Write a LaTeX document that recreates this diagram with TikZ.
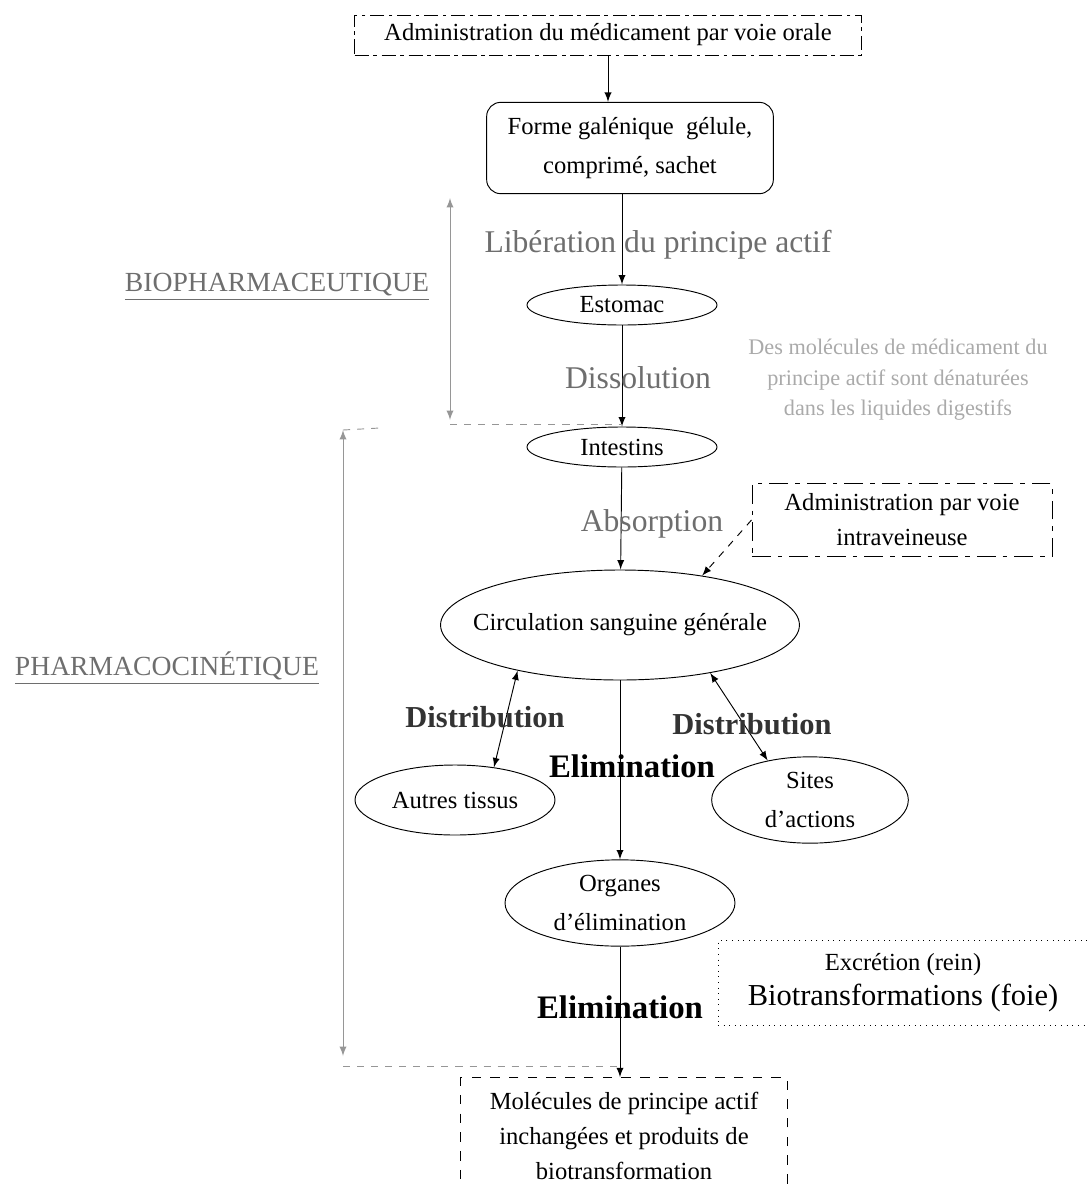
\documentclass[tikz,border=0pt]{standalone}
\usepackage{fontspec}
\setmainfont{Liberation Serif}
\usepackage{tikz}
\usetikzlibrary{shapes,arrows}
\definecolor{labelgray}{RGB}{110,110,110}
\definecolor{notegray}{RGB}{170,170,170}
\definecolor{linegray}{RGB}{150,150,150}

\begin{document}
\begin{tikzpicture}[
    x=0.015cm, y=-0.015cm,
    >=latex,
    dashbox/.style={rectangle, draw, dash pattern=on 6pt off 2pt on 1.5pt off 2pt, align=center, font=\fontsize{10.5}{15}\selectfont},
    dotbox/.style={rectangle, draw, dotted, align=center, font=\fontsize{10.5}{15}\selectfont},
    galbox/.style={rectangle, draw, rounded corners=6pt, align=center, font=\fontsize{10.5}{17}\selectfont},
    oval/.style={ellipse, draw, inner sep=1pt, align=center, font=\fontsize{10.5}{17}\selectfont},
    steplabel/.style={text=labelgray, font=\fontsize{13.5}{15}\selectfont},
    biglabel/.style={text=black!80, font=\fontsize{13}{15}\selectfont\bfseries},
    phase/.style={text=labelgray, font=\fontsize{11.8}{13}\selectfont},
]
    \useasboundingbox (0,0) rectangle (1087,1185);

    % === MAIN CHAIN ===
    \node[dashbox, minimum width=7.6cm, minimum height=0.6cm] (oral) at (608, 35) {Administration du médicament par voie orale};
    \node[galbox, minimum width=4.3cm, minimum height=1.37cm] (forme) at (630, 148) {Forme galénique \ gélule,\\comprimé, sachet};
    \node[oval, minimum width=2.85cm, minimum height=0.6cm] (estomac) at (622, 305) {Estomac};
    \node[oval, minimum width=2.85cm, minimum height=0.6cm] (intestins) at (622, 447) {Intestins};
    \node[oval, inner xsep=-0.3cm, minimum width=5.25cm, minimum height=1.65cm] (circ) at (620, 625) {Circulation sanguine générale};
    \node[oval, minimum width=3cm, minimum height=1.05cm] (autres) at (455, 800) {Autres tissus};
    \node[oval, minimum width=2.95cm, minimum height=1.2cm] (sites) at (810, 800) {Sites\\d'actions};
    \node[oval, minimum width=3.45cm, minimum height=1.2cm] (organes) at (620, 903) {Organes\\d'élimination};
    \node[dashbox, minimum width=4.9cm, minimum height=1.75cm, dash pattern=on 4pt off 4pt] (mol) at (624, 1136) {Molécules de principe actif\\inchangées et produits de\\biotransformation};

    % side boxes
    \node[dashbox, minimum width=4.5cm, minimum height=1.1cm, dash pattern=on 8pt off 3pt on 2pt off 3pt] (iv) at (902, 520) {Administration par voie\\intraveineuse};
    \node[dotbox, minimum width=5.55cm, minimum height=1.27cm] (excr) at (903, 983) {Excrétion (rein)\\\fontsize{13}{16}\selectfont Biotransformations (foie)};
    \node[text=notegray, align=center, font=\fontsize{9.5}{13}\selectfont] (note) at (898, 380) {Des molécules de médicament du\\principe actif sont dénaturées\\dans les liquides digestifs};

    % arrows and labels
    \draw[->] (oral) -- (oral |- forme.north);
    \draw[->] (forme.south -| estomac) -- (estomac);
    \node[steplabel] (lib) at (658, 245) {Libération du principe actif};
    \draw[->] (estomac) -- (intestins);
    \node[steplabel] (diss) at (638, 378) {Dissolution};
    \draw[->] (intestins) -- (circ);
    \node[steplabel] (abs) at (652, 524) {Absorption};
    \draw[->, dashed] (iv.west) -- (circ.31);

    \draw[<->] (circ.204) -- (autres.40);
    \node[biglabel] (dist1) at (485, 717) {Distribution};
    \draw[<->] (circ.-28) -- (sites.137);
    \node[biglabel] (dist2) at (752, 724) {Distribution};
    \draw[->] (circ) -- (organes);
    \node[biglabel, text=black, font=\fontsize{14}{16}\selectfont\bfseries] (elim1) at (632, 766) {Elimination};
    \draw[->] (organes.south) -- (organes.south |- mol.north);
    \node[biglabel, text=black, font=\fontsize{14}{16}\selectfont\bfseries] (elim2) at (620, 1007) {Elimination};

    % === PHASES (left) ===
    \node[phase] (bio) at (277, 287) {\underline{BIOPHARMACEUTIQUE}};
    \coordinate (bioT) at (450, 198);
    \coordinate (bioB) at (450, 420);
    \coordinate (bioC) at (450, 424);
    \draw[<->, linegray] (bioT) -- (bioB);
    \draw[dashed, linegray] (bioC) -- (bioC -| intestins.north);

    \node[phase] (pk) at (167, 668) {\underline{PHARMACOCINÉTIQUE}};
    \coordinate (pkT) at (343, 430);
    \coordinate (pkB) at (343, 1056);
    \coordinate (pkC) at (343, 1066);
    \coordinate (pkTend) at (380, 428);
    \draw[<->, linegray] (pkT) -- (pkB);
    \draw[dashed, linegray] (pkT) -- (pkTend);
    \draw[dashed, linegray] (pkC) -- (pkC -| organes.south);

\end{tikzpicture}
\end{document}
